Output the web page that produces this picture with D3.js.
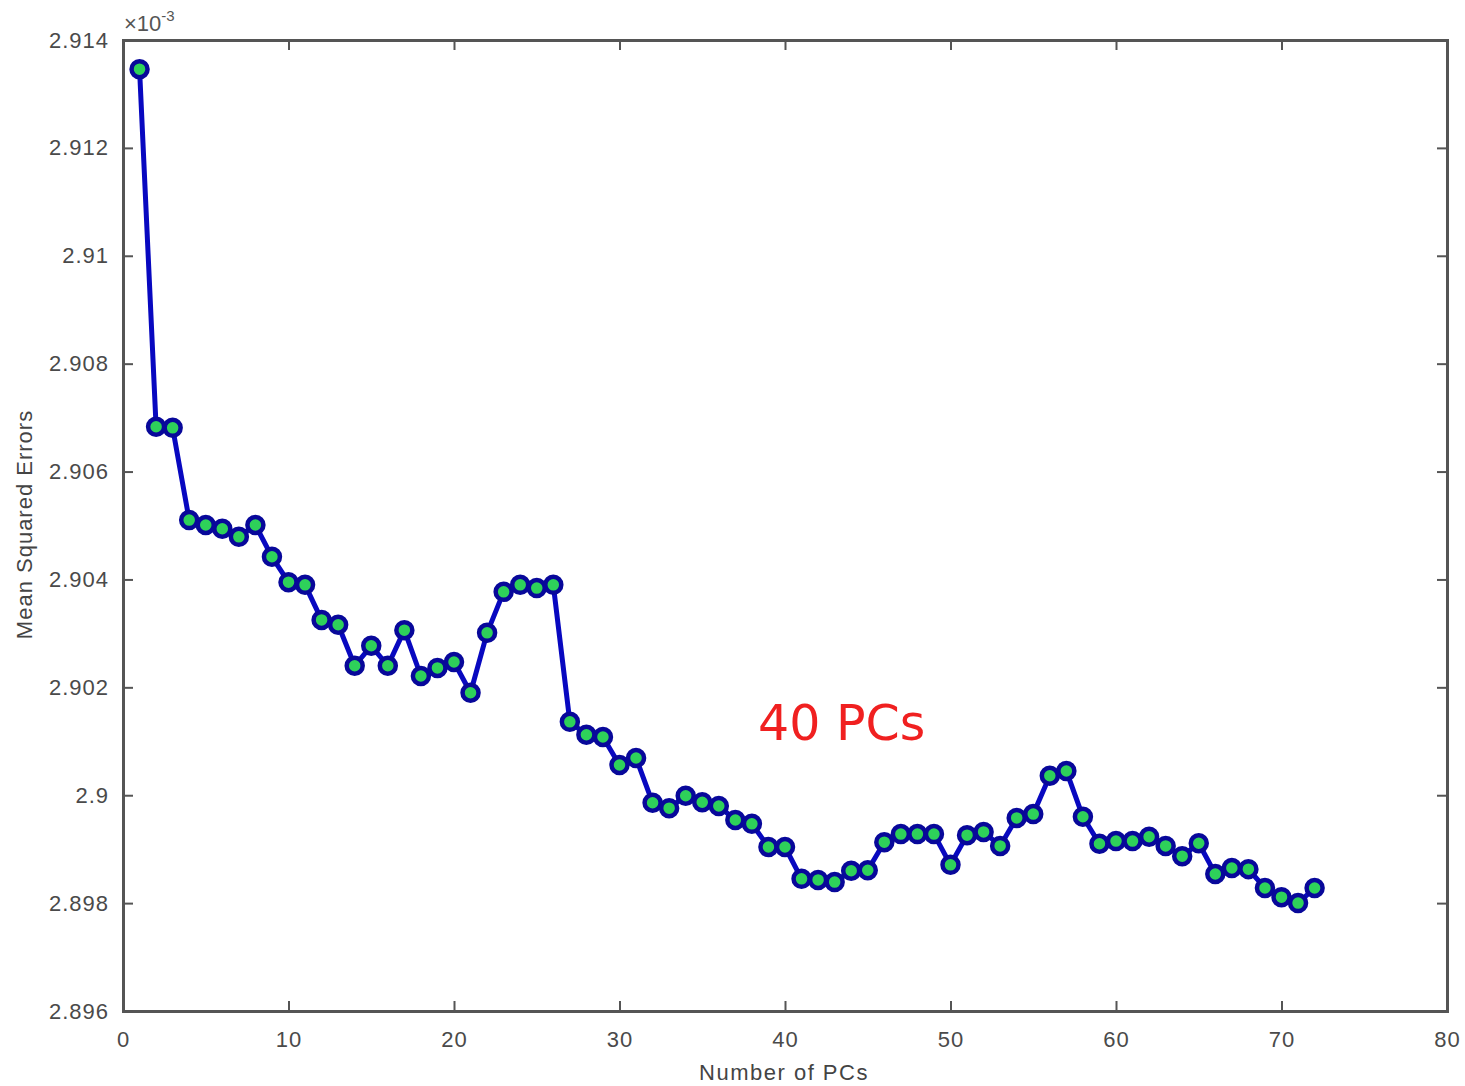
<!DOCTYPE html>
<html>
<head>
<meta charset="utf-8">
<script src="https://cdn.jsdelivr.net/npm/d3@7"></script>
<style>
  body { margin: 0; background: #fff; }
  .axis text { font-family: "Liberation Sans", Arial, sans-serif; font-size: 22px; letter-spacing: 1px; fill: #4a4a4a; }
</style>
</head>
<body>
<svg width="1465" height="1086"></svg>
<script>
// Number of PCs
var pcs = d3.range(1, 73);

// Mean squared errors (units of 1e-3)
var mse = [
  2.91346, 2.90683, 2.90681, 2.90510, 2.90501, 2.90494, 2.90479, 2.90501, 2.90442, 2.90395,
  2.90390, 2.90325, 2.90316, 2.90240, 2.90277, 2.90240, 2.90306, 2.90221, 2.90236, 2.90247,
  2.90190, 2.90301, 2.90377, 2.90390, 2.90384, 2.90390, 2.90136, 2.90112, 2.90108, 2.90056,
  2.90069, 2.89986, 2.89976, 2.89999, 2.89987, 2.89980, 2.89954, 2.89947, 2.89904, 2.89904,
  2.89845, 2.89843, 2.89839, 2.89860, 2.89861, 2.89913, 2.89928, 2.89928, 2.89928, 2.89871,
  2.89926, 2.89932, 2.89906, 2.89958, 2.89965, 2.90036, 2.90045, 2.89960, 2.89910, 2.89915,
  2.89915, 2.89923, 2.89906, 2.89887, 2.89911, 2.89854, 2.89865, 2.89863, 2.89828, 2.89811,
  2.89800, 2.89828
];

var xTicks = [0, 10, 20, 30, 40, 50, 60, 70, 80];
var yTicks = [2.896, 2.898, 2.9, 2.902, 2.904, 2.906, 2.908, 2.91, 2.912, 2.914];

var data = pcs.map(function(d, i) { return {pc: d, value: mse[i]}; });

var svg = d3.select("svg"),
    margin = {top: 40, right: 18, bottom: 75, left: 123},
    width = +svg.attr("width") - margin.left - margin.right,
    height = +svg.attr("height") - margin.top - margin.bottom,
    g = svg.append("g").attr("transform", "translate(" + margin.left + "," + margin.top + ")");

var x = d3.scaleLinear().domain([0, 80]).range([0, width]);
var y = d3.scaleLinear().domain([2.896, 2.914]).range([height, 0]);

var axisColor = "#555";
var fmtY = function(d) { return d3.format("")(+d.toFixed(3)); };

// bottom axis
var xAxis = g.append("g")
    .attr("class", "axis")
    .attr("transform", "translate(0," + height + ")")
    .call(d3.axisBottom(x).tickValues(xTicks).tickSize(-10).tickPadding(20));
// left axis
var yAxis = g.append("g")
    .attr("class", "axis")
    .call(d3.axisLeft(y).tickValues(yTicks).tickSize(-10).tickPadding(14).tickFormat(fmtY));
// top and right ticks
var xTop = g.append("g")
    .attr("class", "axis")
    .call(d3.axisTop(x).tickValues(xTicks).tickSize(-10).tickFormat(""));
var yRight = g.append("g")
    .attr("class", "axis")
    .attr("transform", "translate(" + width + ",0)")
    .call(d3.axisRight(y).tickValues(yTicks).tickSize(-10).tickFormat(""));

[xAxis, yAxis, xTop, yRight].forEach(function(a) {
  a.selectAll("path.domain").attr("stroke", axisColor).attr("stroke-width", 3);
  a.selectAll(".tick line").attr("stroke", axisColor).attr("stroke-width", 2);
});

// exponent label
var ex = svg.append("text")
    .attr("x", margin.left + 1)
    .attr("y", 31)
    .attr("font-family", "Liberation Sans, Arial, sans-serif")
    .attr("font-size", 22)
    .attr("fill", "#555");
ex.append("tspan").text("\u00d710");
ex.append("tspan").attr("dy", -10).attr("font-size", 15).text("-3");

// axis labels
svg.append("text")
    .attr("x", margin.left + width / 2 - 1)
    .attr("y", 1080)
    .attr("text-anchor", "middle")
    .attr("font-family", "Liberation Sans, Arial, sans-serif")
    .attr("font-size", 22)
    .attr("letter-spacing", "1.5px")
    .attr("fill", "#444")
    .text("Number of PCs");

svg.append("text")
    .attr("transform", "translate(32," + (margin.top + height / 2 - 1) + ") rotate(-90)")
    .attr("text-anchor", "middle")
    .attr("font-family", "Liberation Sans, Arial, sans-serif")
    .attr("font-size", 22)
    .attr("letter-spacing", "1px")
    .attr("fill", "#444")
    .text("Mean Squared Errors");

// line
var line = d3.line()
    .x(function(d) { return x(d.pc); })
    .y(function(d) { return y(d.value); });

g.append("path")
    .datum(data)
    .attr("fill", "none")
    .attr("stroke", "#0808c0")
    .attr("stroke-width", 5)
    .attr("stroke-linejoin", "round")
    .attr("d", line);

g.selectAll(".dot")
    .data(data)
  .enter().append("circle")
    .attr("class", "dot")
    .attr("r", 8)
    .attr("cx", function(d) { return x(d.pc); })
    .attr("cy", function(d) { return y(d.value); })
    .attr("fill", "#2ed15a")
    .attr("stroke", "#08089a")
    .attr("stroke-width", 4.5);

// annotation
svg.append("text")
    .attr("x", 758)
    .attr("y", 740)
    .attr("font-family", "DejaVu Sans, Verdana, sans-serif")
    .attr("font-size", 49)
    .attr("fill", "#f02020")
    .text("40 PCs");
</script>
</body>
</html>
